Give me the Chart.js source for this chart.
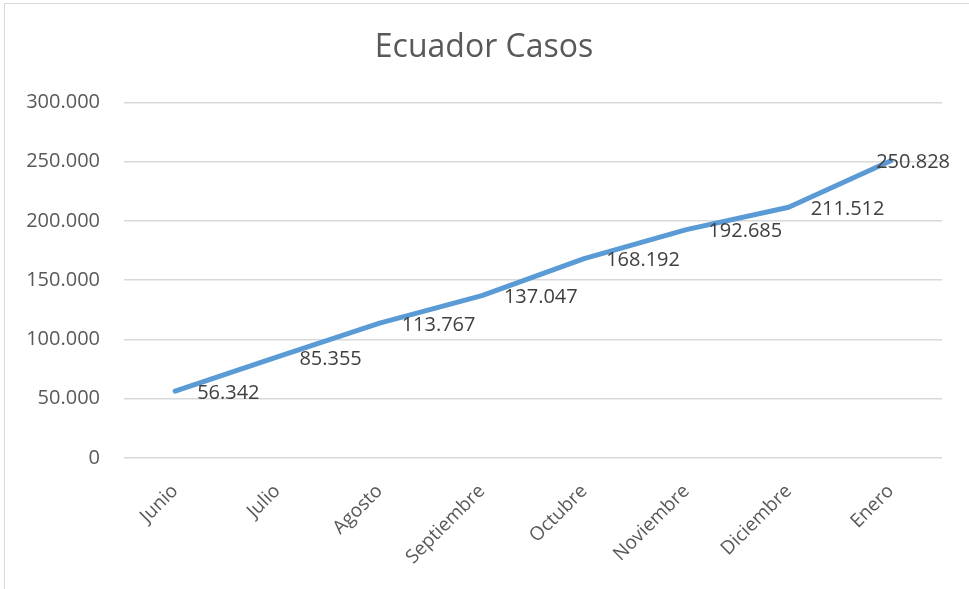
<!DOCTYPE html>
<html>
<head>
<meta charset="utf-8">
<title>Ecuador Casos</title>
<script src="https://cdn.jsdelivr.net/npm/chart.js@4/dist/chart.umd.min.js"></script>
<style>
    html, body { margin: 0; padding: 0; background: #fff; overflow: hidden; }
    #wrap { position: relative; width: 969px; height: 589px; }
    #marco {
        position: absolute; left: 4px; top: 3px; width: 1200px; height: 1200px;
        border: 1px solid #d9d9d9; box-sizing: border-box; pointer-events: none;
    }
</style>
</head>
<body>
<div id="wrap">
    <canvas id="myChart" width="969" height="589"></canvas>
    <div id="marco"></div>
</div>
<script>
// Datos del gráfico
const meses = ["Junio", "Julio", "Agosto", "Septiembre", "Octubre", "Noviembre", "Diciembre", "Enero"];
const casos = [56342, 85355, 113767, 137047, 168192, 192685, 211512, 250828];
const marcasY = [0, 50000, 100000, 150000, 200000, 250000, 300000];

// Formato con punto de miles, como en el original
function formatear(n) {
    return String(n).replace(/\B(?=(\d{3})+(?!\d))/g, ".");
}

// Plugin para las etiquetas de datos a la derecha de cada punto
const etiquetasDatos = {
    id: "etiquetasDatos",
    afterDatasetsDraw(chart) {
        const ctx = chart.ctx;
        const meta = chart.getDatasetMeta(0);
        ctx.save();
        ctx.font = "20px 'Open Sans'";
        ctx.fillStyle = "#404040";
        ctx.textAlign = "left";
        ctx.textBaseline = "middle";
        meta.data.forEach(function (p, i) {
            const txt = formatear(casos[i]);
            const w = ctx.measureText(txt).width;
            let x = p.x + 22;
            const limite = chart.chartArea.right + 8;
            if (x + w > limite) x = limite - w;
            ctx.fillText(txt, x, p.y + 2);
        });
        ctx.restore();
    }
};

const ctx = document.getElementById("myChart").getContext("2d");
const myChart = new Chart(ctx, {
    type: "line",
    data: {
        labels: meses,
        datasets: [{
            label: "Casos",
            data: casos,
            borderColor: "#5B9BD5",
            backgroundColor: "#5B9BD5",
            borderWidth: 5,
            pointRadius: 0,
            tension: 0,
            borderCapStyle: "round",
            borderJoinStyle: "round",
            fill: false
        }]
    },
    options: {
        responsive: false,
        animation: false,
        layout: { padding: { top: 14, right: 14, left: 13, bottom: 0 } },
        plugins: {
            legend: { display: false },
            tooltip: { enabled: false },
            title: {
                display: true,
                text: "Ecuador Casos",
                color: "#595959",
                font: { family: "'Open Sans'", size: 32, weight: "normal" },
                padding: { top: 15, bottom: 35 }
            }
        },
        scales: {
            x: {
                offset: true,
                grid: { display: false, drawTicks: false },
                border: { display: false },
                ticks: {
                    color: "#595959",
                    font: { family: "'Open Sans'", size: 19 },
                    minRotation: 45,
                    maxRotation: 45,
                    padding: 22
                },
                afterFit: function (scale) { scale.height = 131; }
            },
            y: {
                min: 0,
                max: 300000,
                afterBuildTicks: function (scale) {
                    scale.ticks = marcasY.map(function (v) { return { value: v }; });
                },
                grid: { color: "#d9d9d9", lineWidth: 1.5, drawTicks: false },
                border: { display: false },
                ticks: {
                    color: "#595959",
                    font: { family: "'Open Sans'", size: 20 },
                    padding: 24,
                    callback: function (v) { return formatear(v); }
                },
                afterFit: function (scale) { scale.width = 111; }
            },
            // eje vacío a la derecha, solo para reservar margen
            yDer: {
                position: "right",
                min: 0,
                max: 300000,
                grid: { display: false, drawTicks: false },
                border: { display: false },
                ticks: { display: false },
                afterFit: function (scale) { scale.width = 13; }
            }
        }
    },
    plugins: [etiquetasDatos]
});
</script>
</body>
</html>
